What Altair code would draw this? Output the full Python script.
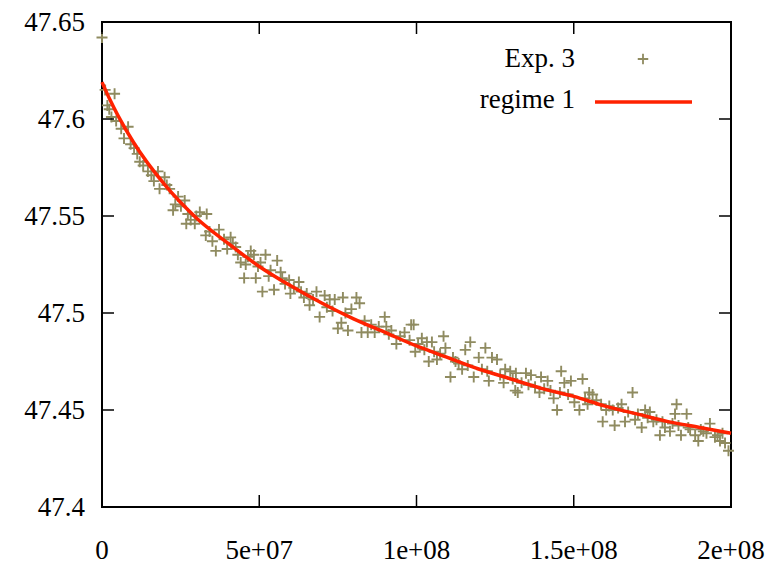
import altair as alt
import pandas as pd

exp_x_M = [0.0, 1.0, 1.7, 2.3, 3.0, 4.0, 4.5, 6.1, 7.0, 8.3, 9.1, 10.2, 11.2, 12.0, 13.1, 14.6, 15.7,
           16.5, 17.8, 18.3, 19.9, 20.6, 21.5, 22.6, 23.3, 24.2, 25.1, 26.3, 26.8, 27.3, 28.2, 29.5,
           30.0, 31.1, 33.0, 33.3, 34.2, 35.1, 36.2, 37.2, 38.8, 39.8, 40.9, 41.6, 42.5, 43.2, 44.1,
           45.2, 45.7, 46.4, 47.3, 48.3, 48.9, 49.6, 50.4, 51.0, 52.0, 53.0, 53.6, 54.7, 55.7, 56.8,
           57.3, 58.2, 59.5, 59.9, 61.0, 62.6, 63.3, 64.2, 65.1, 66.0, 67.1, 68.2, 69.2, 70.8, 71.5,
           72.4, 73.3, 74.0, 75.0, 76.1, 76.6, 77.4, 78.2, 79.3, 80.9, 81.9, 82.5, 83.5, 84.5, 85.6,
           86.7, 88.0, 89.9, 90.4, 91.2, 92.0, 93.6, 94.8, 96.2, 97.8, 98.3, 99.1, 99.6, 100.5, 101.7,
           102.5, 103.3, 103.9, 104.9, 105.6, 106.5, 107.5, 108.6, 109.2, 110.8, 111.6, 112.4, 113.4,
           114.5, 115.5, 116.3, 117.1, 118.2, 119.8, 120.8, 121.9, 122.5, 123.0, 124.0, 125.6, 126.6,
           127.7, 128.2, 129.8, 130.6, 131.4, 131.6, 132.2, 133.4, 134.8, 135.6, 136.4, 137.7, 139.1,
           139.6, 140.6, 141.7, 142.6, 143.6, 144.7, 145.6, 146.0, 147.0, 148.2, 149.1, 150.2, 151.8,
           152.8, 153.6, 154.4, 154.9, 156.0, 157.2, 158.7, 159.2, 160.3, 161.3, 162.4, 163.0, 164.1,
           165.2, 166.3, 167.3, 168.7, 169.5, 170.4, 171.6, 172.7, 173.5, 174.2, 175.3, 176.3, 177.4,
           178.2, 179.0, 180.6, 181.4, 182.2, 182.7, 183.3, 184.1, 185.9, 186.4, 187.0, 188.6, 189.6,
           190.4, 191.2, 192.2, 193.3, 194.9, 195.7, 196.5, 197.3, 198.1, 199.2]
exp_y = [47.642, 47.615, 47.607, 47.605, 47.601, 47.613, 47.599, 47.595, 47.590, 47.596, 47.587, 47.585,
         47.582, 47.578, 47.576, 47.573, 47.571, 47.568, 47.573, 47.564, 47.570, 47.566, 47.564, 47.553,
         47.556, 47.560, 47.555, 47.558, 47.546, 47.551, 47.548, 47.546, 47.550, 47.552, 47.540, 47.551,
         47.542, 47.537, 47.532, 47.543, 47.538, 47.533, 47.539, 47.536, 47.534, 47.530, 47.526, 47.518,
         47.525, 47.529, 47.532, 47.530, 47.518, 47.524, 47.526, 47.511, 47.530, 47.519, 47.522, 47.512,
         47.527, 47.521, 47.518, 47.515, 47.517, 47.510, 47.513, 47.516, 47.511, 47.508, 47.510, 47.504,
         47.507, 47.511, 47.498, 47.509, 47.503, 47.507, 47.501, 47.507, 47.492, 47.495, 47.508, 47.500,
         47.491, 47.502, 47.508, 47.505, 47.490, 47.496, 47.490, 47.494, 47.490, 47.493, 47.498, 47.493,
         47.489, 47.491, 47.484, 47.488, 47.490, 47.486, 47.494, 47.494, 47.480, 47.484, 47.487, 47.481,
         47.485, 47.475, 47.485, 47.480, 47.476, 47.479, 47.488, 47.482, 47.467, 47.477, 47.475, 47.474,
         47.471, 47.481, 47.473, 47.485, 47.467, 47.477, 47.471, 47.482, 47.470, 47.465, 47.477, 47.476,
         47.468, 47.464, 47.471, 47.470, 47.466, 47.460, 47.469, 47.459, 47.464, 47.469, 47.463, 47.468,
         47.462, 47.459, 47.467, 47.461, 47.465, 47.460, 47.456, 47.450, 47.459, 47.470, 47.464, 47.458,
         47.465, 47.454, 47.450, 47.466, 47.456, 47.453, 47.459, 47.458, 47.455, 47.453, 47.444, 47.450,
         47.452, 47.450, 47.442, 47.451, 47.453, 47.444, 47.449, 47.459, 47.445, 47.448, 47.441, 47.450,
         47.446, 47.449, 47.444, 47.445, 47.437, 47.444, 47.441, 47.439, 47.443, 47.448, 47.453, 47.442,
         47.437, 47.448, 47.441, 47.440, 47.437, 47.434, 47.440, 47.439, 47.438, 47.443, 47.436, 47.437,
         47.434, 47.438, 47.433, 47.429]

# Fitted curve "regime 1" (x in units of 1e6)
fit_x_M = [0, 2.5, 5, 10, 20, 30, 40, 50, 60, 70, 80, 90, 100, 110, 120, 130, 140, 150, 160, 170, 180, 190, 200]
fit_y = [47.619, 47.610, 47.602, 47.588, 47.566, 47.549, 47.536, 47.524, 47.514, 47.505, 47.497, 47.490,
         47.483, 47.477, 47.471, 47.466, 47.461, 47.457, 47.452, 47.448, 47.444, 47.441, 47.438]

x_ticks = [0, 5e7, 1e8, 1.5e8, 2e8]
x_tick_labels = ["0", "5e+07", "1e+08", "1.5e+08", "2e+08"]
y_ticks = [47.4, 47.45, 47.5, 47.55, 47.6, 47.65]
y_tick_labels = ["47.4", "47.45", "47.5", "47.55", "47.6", "47.65"]

series_names = ["Exp. 3", "regime 1"]

POINT_COLOR = "#8f8b60"
LINE_COLOR = "#ff2200"
FONT = "Times New Roman"
FS = 27
W, H = 629, 485

pts = pd.DataFrame({"x": [v * 1e6 for v in exp_x_M], "y": exp_y})
fit = pd.DataFrame({"x": [v * 1e6 for v in fit_x_M], "y": fit_y})
xt = pd.DataFrame({"x": x_ticks})
yt = pd.DataFrame({"y": y_ticks})
xl = pd.DataFrame({"xpos": x_ticks, "txt": x_tick_labels})
yl = pd.DataFrame({"ypos": y_ticks, "txt": y_tick_labels})

xscale = alt.Scale(domain=[0, 2e8], nice=False, zero=False)
yscale = alt.Scale(domain=[47.4, 47.65], nice=False, zero=False)

plus_path = "M-1,0L1,0M0,-1L0,1"

points = alt.Chart(pts).mark_point(shape=plus_path, size=121, filled=False, strokeWidth=1.9,
                                   color=POINT_COLOR, opacity=1, clip=False).encode(
    x=alt.X("x:Q", scale=xscale, axis=None),
    y=alt.Y("y:Q", scale=yscale, axis=None),
)

curve = alt.Chart(fit).mark_line(color=LINE_COLOR, strokeWidth=3.5, interpolate="monotone").encode(
    x=alt.X("x:Q", scale=xscale, axis=None),
    y=alt.Y("y:Q", scale=yscale, axis=None),
)

tick_style = dict(color="black", strokeWidth=1.5)
xt_bottom = alt.Chart(xt).mark_rule(**tick_style).encode(
    x=alt.X("x:Q", scale=xscale, axis=None), y=alt.value(H), y2=alt.value(H - 12))
xt_top = alt.Chart(xt).mark_rule(**tick_style).encode(
    x=alt.X("x:Q", scale=xscale, axis=None), y=alt.value(0), y2=alt.value(12))
yt_left = alt.Chart(yt).mark_rule(**tick_style).encode(
    y=alt.Y("y:Q", scale=yscale, axis=None), x=alt.value(0), x2=alt.value(12))
yt_right = alt.Chart(yt).mark_rule(**tick_style).encode(
    y=alt.Y("y:Q", scale=yscale, axis=None), x=alt.value(W), x2=alt.value(W - 12))

# tick labels drawn as text through the same scales
xlabels = alt.Chart(xl).mark_text(align="center", baseline="alphabetic", font=FONT, fontSize=FS,
                                  color="black").encode(
    x=alt.X("xpos:Q", scale=xscale, axis=None), y=alt.value(H + 52), text=alt.Text("txt:N"))
ylabels = alt.Chart(yl).mark_text(align="right", baseline="alphabetic", dy=9, font=FONT, fontSize=FS,
                                  color="black").encode(
    y=alt.Y("ypos:Q", scale=yscale, axis=None), x=alt.value(-17), text=alt.Text("txt:N"))

leg = pd.DataFrame({"name": series_names})
leg_text1 = alt.Chart(leg.iloc[[0]]).mark_text(align="right", baseline="alphabetic", font=FONT,
                                               fontSize=FS, color="black").encode(
    text="name:N", x=alt.value(473), y=alt.value(45))
leg_text2 = alt.Chart(leg.iloc[[1]]).mark_text(align="right", baseline="alphabetic", font=FONT,
                                               fontSize=FS, color="black").encode(
    text="name:N", x=alt.value(473), y=alt.value(86))
leg_pt = alt.Chart(leg.iloc[[0]]).mark_point(shape=plus_path, size=110, filled=False, strokeWidth=1.8,
                                             color=POINT_COLOR, opacity=1).encode(
    x=alt.value(541), y=alt.value(37))
leg_line = alt.Chart(leg.iloc[[1]]).mark_rule(color=LINE_COLOR, strokeWidth=3.5).encode(
    x=alt.value(493), x2=alt.value(590), y=alt.value(80))

chart = alt.layer(
    points, curve, xt_bottom, xt_top, yt_left, yt_right, xlabels, ylabels,
    leg_text1, leg_text2, leg_pt, leg_line
).properties(
    width=W, height=H,
    background="white",
    autosize=alt.AutoSizeParams(type="none"),
    padding={"left": 102, "top": 22, "right": 49, "bottom": 58},
).configure(
    font=FONT
).configure_text(
    font=FONT
).configure_view(
    stroke="black", strokeWidth=2, fill="white"
)

chart.save("out.html", embed_options={"renderer": "svg", "actions": False})
